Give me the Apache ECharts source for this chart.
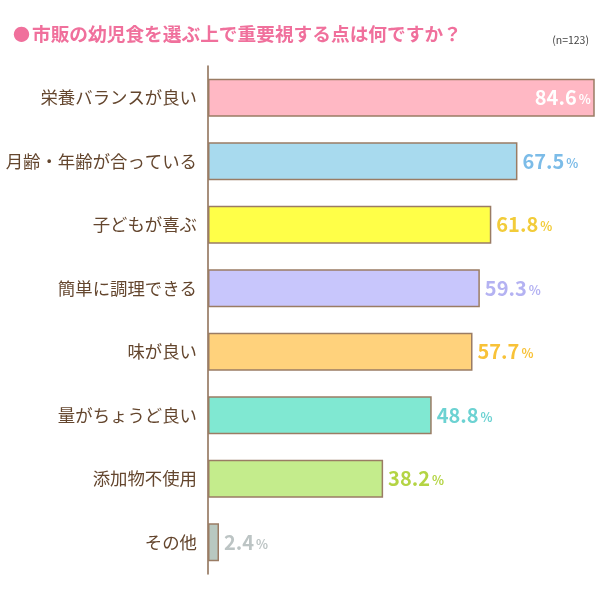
<!DOCTYPE html>
<html><head><meta charset="utf-8">
<script src="https://cdn.jsdelivr.net/npm/echarts@6/dist/echarts.min.js"></script>
<style>html,body{margin:0;padding:0;background:#fff}#c{width:599px;height:598px}</style>
</head><body><div id="c"></div>
<script>
const categories = ['栄養バランスが良い','月齢・年齢が合っている','子どもが喜ぶ','簡単に調理できる','味が良い','量がちょうど良い','添加物不使用','その他'];
const values = [84.6, 67.5, 61.8, 59.3, 57.7, 48.8, 38.2, 2.4];
const barColors = ['#ffb8c4','#a8daee','#ffff48','#c8c6fc','#ffd27c','#80e8d2','#c4ec8c','#b8c8c0'];
const labelColors = ['#ffffff','#7cbce8','#f2cc3a','#b4b2f2','#f8c238','#6cd2d2','#b4d444','#bcc4c4'];

const chart = echarts.init(document.getElementById('c'));
const font = '"Noto Sans CJK JP","Noto Sans",sans-serif';
chart.setOption({
  animation:false,
  title:[
    {text:'{b|●}{t|市販の幼児食を選ぶ上で重要視する点は何ですか？}',left:8,top:20,
     textStyle:{rich:{b:{color:'#f0709c',fontSize:17,fontFamily:font,padding:[0,2,0,0]},t:{color:'#f0709c',fontSize:18.7,fontWeight:'bold',fontFamily:font}}}},
    {text:'(n=123)',right:5,top:30,textStyle:{color:'#444',fontSize:10.5,fontWeight:'normal',fontFamily:font}}
  ],
  grid:{left:208,right:5,top:66,bottom:24,containLabel:false},
  xAxis:{type:'value',min:0,max:84.2,show:false},
  yAxis:{type:'category',inverse:true,data:categories,
    axisLine:{show:true,lineStyle:{color:'#8a6a50',width:1.5}},
    axisTick:{show:false},
    axisLabel:{color:'#64462e',fontSize:17.4,fontFamily:font,margin:11}},
  series:[{type:'bar',barWidth:38,
    data:values.map((v,i)=>({value:v,
      itemStyle:{color:barColors[i],borderColor:'#9a7c64',borderWidth:1.5},
      label:{show:true,position:i===0?'insideRight':'right',distance:i===0?4:5,
        formatter:'{v|'+v.toFixed(1)+'}{p|%}',
        rich:{v:{color:labelColors[i],fontSize:20,fontWeight:'bold',fontFamily:font},
              p:{color:labelColors[i],fontSize:12.5,fontWeight:'bold',fontFamily:font,padding:[3,0,0,2]}}}
    }))
  }]
});
</script></body></html>
